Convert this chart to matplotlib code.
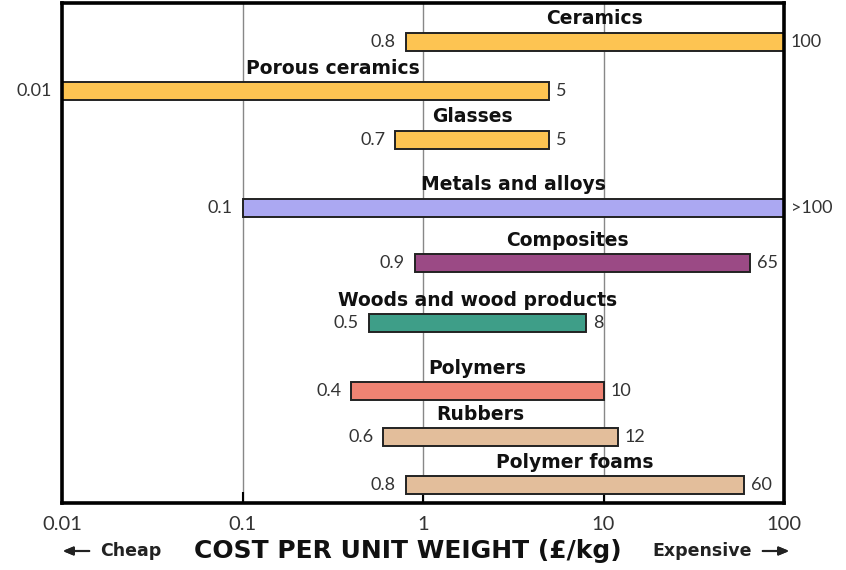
import matplotlib
matplotlib.use("Agg")
import numpy as np
import matplotlib.pyplot as plt

# material classes and cost ranges (GBP/kg)
materials = ["Ceramics", "Porous ceramics", "Glasses", "Metals and alloys", "Composites",
             "Woods and wood products", "Polymers", "Rubbers", "Polymer foams"]
low = [0.8, 0.01, 0.7, 0.1, 0.9, 0.5, 0.4, 0.6, 0.8]
high = [100, 5, 5, 100, 65, 8, 10, 12, 60]
low_labels = ["0.8", "0.01", "0.7", "0.1", "0.9", "0.5", "0.4", "0.6", "0.8"]
high_labels = ["100", "5", "5", ">100", "65", "8", "10", "12", "60"]

tick_vals = [0.01, 0.1, 1, 10, 100]
tick_labels = ["0.01", "0.1", "1", "10", "100"]

# layout: vertical position of each bar (screen-like units), label nudges in px
ypos = [42, 91, 140, 208, 263, 323, 391, 437, 485]
label_dx = [0, 27, 0, 0, -15, 0, 0, -20, 0]
colors = ["#FDC452", "#FDC452", "#FDC452", "#ABA8F2", "#9B4A85",
          "#3E9E88", "#EF8373", "#E3BE9B", "#E3BE9B"]

NUMFONT = ["Lato", "DejaVu Sans"]
BOLDFONT = ["DejaVu Sans"]
plt.rcParams["font.family"] = NUMFONT

fig = plt.figure(figsize=(8.46, 5.70), dpi=100)
ax = fig.add_axes([62 / 846, 67 / 570, 722 / 846, 500 / 570])
ax.set_xscale("log")
ax.set_xlim(0.01, 100)
ax.set_ylim(503, 3)

for x in [0.1, 1, 10]:
    ax.axvline(x, color="#888888", lw=1.0, zorder=0)

for i, name in enumerate(materials):
    lo, hi, y = low[i], high[i], ypos[i]
    ax.barh(y, hi - lo, left=lo, height=18, color=colors[i],
            edgecolor="#222222", lw=1.4, zorder=2)
    ax.annotate(low_labels[i], (lo, y), xytext=(-7, 0), textcoords="offset points",
                ha="right", va="center", fontsize=13, color="#333333",
                annotation_clip=False, zorder=4)
    bb = dict(facecolor="white", edgecolor="none", pad=1) if 50 < hi < 100 else None
    ax.annotate(high_labels[i], (hi, y), xytext=(5, 0), textcoords="offset points",
                ha="left", va="center", fontsize=13, color="#333333",
                annotation_clip=False, zorder=4, bbox=bb)
    xc = np.sqrt(lo * hi)
    ax.annotate(name, (xc, y - 23), xytext=(label_dx[i] * 0.72, 0), textcoords="offset points",
                ha="center", va="center", fontsize=13.5, fontweight="bold",
                family=BOLDFONT, color="#111111", zorder=4)

for s in ["left", "right", "bottom", "top"]:
    ax.spines[s].set_linewidth(2.6)
ax.spines["right"].set_zorder(3)

ax.set_yticks([])
ax.set_xticks(tick_vals)
ax.set_xticklabels(tick_labels, fontsize=14.5, color="#333333")
ax.minorticks_off()
ax.tick_params(axis="x", direction="in", length=8, width=1.5, pad=9)

ylab = 1 - 551 / 570
fig.text(408 / 846, ylab, "COST PER UNIT WEIGHT (£/kg)", ha="center", va="center",
         fontsize=18, fontweight="bold", family=BOLDFONT, color="#111111")
fig.text(100 / 846, ylab, "Cheap", ha="left", va="center",
         fontsize=12.5, fontweight="bold", family=BOLDFONT, color="#222222")
fig.text(752 / 846, ylab, "Expensive", ha="right", va="center",
         fontsize=12.5, fontweight="bold", family=BOLDFONT, color="#222222")
arrow = dict(arrowstyle="-|>,head_length=0.6,head_width=0.25", color="#222222", lw=1.5)
fig.add_artist(plt.annotate("", xy=(60 / 846, ylab), xytext=(92 / 846, ylab),
                            xycoords="figure fraction", arrowprops=arrow))
fig.add_artist(plt.annotate("", xy=(792 / 846, ylab), xytext=(760 / 846, ylab),
                            xycoords="figure fraction", arrowprops=arrow))

fig.savefig("out.png", dpi=100)
